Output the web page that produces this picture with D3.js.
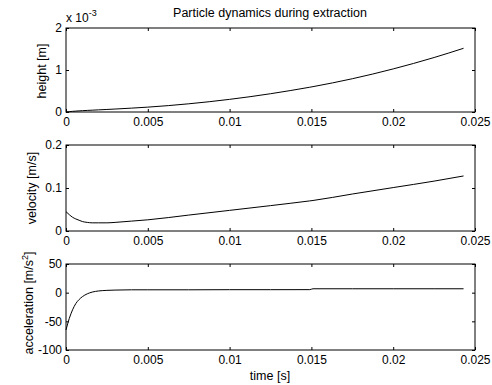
<!DOCTYPE html>
<html>
<head>
<meta charset="utf-8">
<script src="https://cdn.jsdelivr.net/npm/d3@7"></script>
<style>
  body { margin: 0; background: #fff; }
  svg { display: block; font-family: "Liberation Sans", Arial, sans-serif; }
</style>
</head>
<body>
<script>
// time samples [s]
const time = [0, 0.0002, 0.0004, 0.0006, 0.0008, 0.001, 0.0013, 0.0016, 0.002, 0.0025,
  0.003, 0.004, 0.005, 0.0075, 0.01, 0.0125, 0.0149, 0.0151, 0.0175, 0.02, 0.0225, 0.0243];

// height [m]
const height = [0, 0.0000083, 0.0000153, 0.0000213, 0.0000266, 0.0000313, 0.0000376, 0.0000435, 0.0000511, 0.0000606,
  0.0000704, 0.0000919, 0.000116, 0.000195, 0.000301, 0.000435, 0.00059, 0.000604, 0.000792, 0.001026, 0.001297, 0.001517];

// velocity [m/s]
const velocity = [0.045, 0.038, 0.032, 0.028, 0.025, 0.022, 0.020, 0.019, 0.019, 0.019,
  0.020, 0.023, 0.026, 0.037, 0.048, 0.059, 0.070, 0.071, 0.086, 0.101, 0.116, 0.128];

// acceleration [m/s^2]
const acceleration = [-65, -45, -30, -19, -12, -7, -2, 1, 3, 4,
  4.5, 5, 5, 5, 5.2, 5.2, 5.3, 6.8, 6.8, 6.8, 6.8, 6.8];

const xTicks = [0, 0.005, 0.01, 0.015, 0.02, 0.025];

const width = 492;
const heightPx = 385;

const svg = d3.select('body').append('svg')
  .attr('width', width)
  .attr('height', heightPx);

const x = d3.scaleLinear().domain([0, 0.025]).range([66, 475]);

function drawPanel(top, bottom, domain, yTicks, yFormat, values) {
  const y = d3.scaleLinear().domain(domain).range([bottom, top]);
  const g = svg.append('g');

  // box
  g.append('rect')
    .attr('x', x.range()[0]).attr('y', top)
    .attr('width', x.range()[1] - x.range()[0]).attr('height', bottom - top)
    .attr('fill', 'none').attr('stroke', '#000').attr('stroke-width', 1);

  const fmt = d => String(d);
  const axes = [
    [d3.axisBottom(x).tickValues(xTicks).tickFormat(fmt).tickPadding(5), `translate(0,${bottom})`],
    [d3.axisTop(x).tickValues(xTicks).tickFormat(''), `translate(0,${top})`],
    [d3.axisLeft(y).tickValues(yTicks).tickFormat(yFormat).tickPadding(4), `translate(${x.range()[0]},0)`],
    [d3.axisRight(y).tickValues(yTicks).tickFormat(''), `translate(${x.range()[1]},0)`]
  ];
  axes.forEach(([ax, tr]) => {
    const a = g.append('g')
      .attr('transform', tr)
      .call(ax.tickSizeInner(-3).tickSizeOuter(0));
    a.select('.domain').remove();
    a.selectAll('text').attr('font-size', 12).attr('fill', '#000')
      .attr('font-family', '"Liberation Sans", Arial, sans-serif');
    a.selectAll('line').attr('stroke', '#000');
  });

  const line = d3.line()
    .curve(d3.curveMonotoneX)
    .x((d, i) => x(time[i]))
    .y(d => y(d));

  g.append('path')
    .datum(values)
    .attr('fill', 'none')
    .attr('stroke', '#000')
    .attr('stroke-width', 1)
    .attr('d', line);
  return g;
}

drawPanel(28, 112, [0, 0.002], [0, 0.001, 0.002], d => String(Math.round(d * 1000)), height);
drawPanel(145, 231, [0, 0.2], [0, 0.1, 0.2], d => String(d), velocity);
drawPanel(264, 350, [-100, 50], [-100, -50, 0, 50], d => String(d), acceleration);

// title
svg.append('text')
  .attr('x', 270).attr('y', 17)
  .attr('text-anchor', 'middle')
  .attr('font-size', 12.5)
  .text('Particle dynamics during extraction');

// exponent
const ex = svg.append('text').attr('x', 66).attr('y', 22).attr('font-size', 12);
ex.append('tspan').text('x 10');
ex.append('tspan').attr('dy', -6).attr('font-size', 9).text('-3');

// y labels
function yLabel(cx, cy, build) {
  const t = svg.append('text')
    .attr('transform', `translate(${cx},${cy}) rotate(-90)`)
    .attr('text-anchor', 'middle')
    .attr('font-size', 12.5);
  build(t);
}
yLabel(46, 71, t => t.text('height [m]'));
yLabel(36, 188, t => t.text('velocity [m/s]'));
yLabel(33, 303, t => {
  t.append('tspan').text('acceleration [m/s');
  t.append('tspan').attr('dy', -5).attr('font-size', 9).text('2');
  t.append('tspan').attr('dy', 5).text(']');
});

// x label
svg.append('text')
  .attr('x', 270).attr('y', 380)
  .attr('text-anchor', 'middle')
  .attr('font-size', 12.5)
  .text('time [s]');
</script>
</body>
</html>
